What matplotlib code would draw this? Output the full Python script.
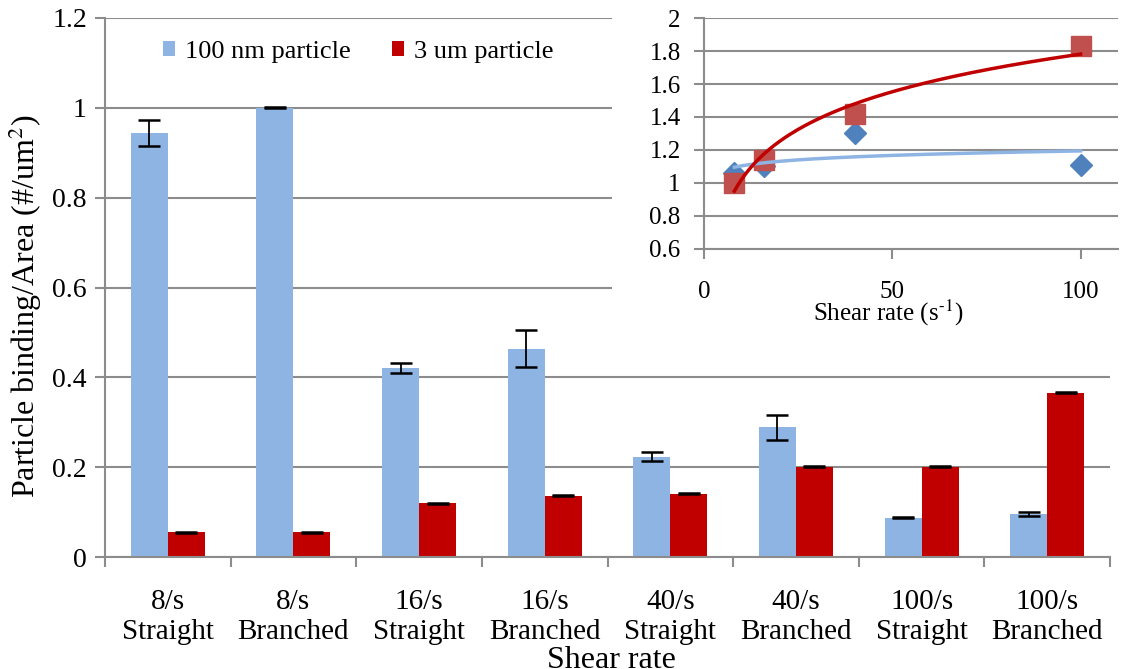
import numpy as np
import matplotlib.pyplot as plt
from matplotlib.patches import Rectangle

plt.rcParams['font.family'] = ['Liberation Serif', 'DejaVu Serif']
plt.rcParams['mathtext.fontset'] = 'stix'

# bar chart data
groups = ['8/s\nStraight', '8/s\nBranched', '16/s\nStraight', '16/s\nBranched',
          '40/s\nStraight', '40/s\nBranched', '100/s\nStraight', '100/s\nBranched']
nano = [0.945, 1.0, 0.421, 0.464, 0.223, 0.289, 0.087, 0.096]
nano_err = [0.029, 0.001, 0.012, 0.041, 0.010, 0.028, 0.001, 0.005]
micro = [0.055, 0.055, 0.120, 0.136, 0.141, 0.201, 0.201, 0.366]
micro_err = [0.001, 0.001, 0.001, 0.001, 0.001, 0.001, 0.001, 0.001]

# inset data
rate = [8, 16, 40, 100]
nano_norm = [1.06, 1.10, 1.30, 1.11]
micro_norm = [1.0, 1.14, 1.42, 1.83]

blue = '#8EB4E3'
red = '#C00000'
grid = '#8C8C8C'

fig = plt.figure(figsize=(11.25, 6.69), dpi=100)
ax = fig.add_axes([0.0933, 0.1674, 0.8934, 0.8057])

x = np.arange(len(groups))
w = 0.294
ax.bar(x - w / 2, nano, w, color=blue, label='100 nm particle', zorder=2)
ax.bar(x + w / 2, micro, w, color=red, label='3 um particle', zorder=2)
ax.errorbar(x - w / 2, nano, yerr=nano_err, fmt='none', ecolor='black',
            elinewidth=1.3, capsize=8, capthick=1.8, zorder=3)
ax.errorbar(x + w / 2, micro, yerr=micro_err, fmt='none', ecolor='black',
            elinewidth=1.3, capsize=8, capthick=1.8, zorder=3)

ax.set_xlim(-0.5, len(groups) - 0.5)
ax.set_ylim(0, 1.2)
ax.set_yticks(np.arange(0, 1.21, 0.2))
ax.set_yticklabels(['0', '0.2', '0.4', '0.6', '0.8', '1', '1.2'])
ax.set_xticks(x)
ax.set_xticklabels(groups)
ax.set_xticks(np.arange(-0.5, len(groups), 1), minor=True)
ax.tick_params(axis='x', which='major', length=0, pad=23, labelsize=21)
ax.tick_params(axis='x', which='minor', length=7, width=1.5, color=grid, direction='out')
ax.tick_params(axis='y', length=7, width=1.5, color=grid, labelsize=20, pad=6)
ax.yaxis.grid(True, color=grid, linewidth=1.5, zorder=0)
ax.set_axisbelow(True)
for s in ['top', 'right']:
    ax.spines[s].set_visible(False)
for s in ['left', 'bottom']:
    ax.spines[s].set_color(grid)
    ax.spines[s].set_linewidth(1.5)
fig.text(25 / 1125, 1 - 306 / 669, 'Particle binding/Area (#/um$^2$)', fontsize=23,
         rotation=90, ha='center', va='center')
fig.text(611 / 1125, 1 - 668 / 669, 'Shear rate', fontsize=23, ha='center', va='baseline')

ax.legend(loc='center', bbox_to_anchor=(0.252, 0.937), ncol=2, frameon=False,
          fontsize=19, handlelength=0.45, handleheight=0.45, handletextpad=0.35,
          columnspacing=1.6)

# white area behind the inset
fig.patches.append(Rectangle((612 / 1125, 1 - 330 / 669), 1, 1,
                             transform=fig.transFigure, facecolor='white',
                             edgecolor='none', zorder=0.5))

ins = fig.add_axes([0.626, 0.628, 0.368, 0.345], zorder=1)
ins.patch.set_alpha(0)
xs = np.linspace(min(rate), max(rate), 200)
for yv, lc, mk, mc, ms in [(nano_norm, blue, 'D', '#4F81BD', 11),
                           (micro_norm, red, 's', '#C0504D', 14)]:
    ins.plot(rate, yv, linestyle='none', marker=mk, color=mc, markersize=ms, zorder=3)
    a, b = np.polyfit(np.log(rate), yv, 1)
    ins.plot(xs, a * np.log(xs) + b, color=lc, linewidth=2.5, zorder=4)
ins.set_xlim(0, 110)
ins.set_ylim(0.6, 2.0)
ins.set_xticks([0, 50, 100])
ins.set_yticks(np.arange(0.6, 2.01, 0.2))
ins.set_yticklabels(['0.6', '0.8', '1', '1.2', '1.4', '1.6', '1.8', '2'])
ins.tick_params(axis='x', length=7, width=1.5, color=grid, labelsize=18, pad=16)
ins.tick_params(axis='y', length=7, width=1.5, color=grid, labelsize=18, pad=10)
ins.yaxis.grid(True, color=grid, linewidth=1.5, zorder=0)
ins.set_axisbelow(True)
for s in ['top', 'right']:
    ins.spines[s].set_visible(False)
for s in ['left', 'bottom']:
    ins.spines[s].set_color(grid)
    ins.spines[s].set_linewidth(1.5)
fig.text(888 / 1125, 1 - 321 / 669, r'Shear rate (s$^{\text{-}1}$)', fontsize=18,
         ha='center', va='baseline', zorder=2)

fig.savefig('out.png', dpi=100)
